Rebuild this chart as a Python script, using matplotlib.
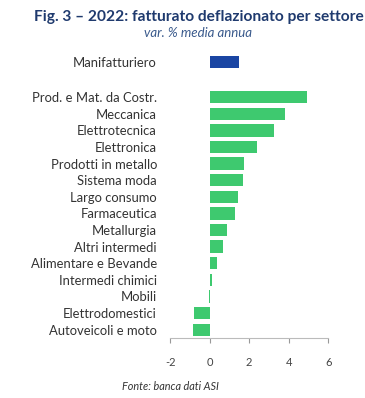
import matplotlib
matplotlib.use('Agg')
import matplotlib.pyplot as plt

# data
categories = ['Manifatturiero', 'Prod. e Mat. da Costr.', 'Meccanica',
              'Elettrotecnica', 'Elettronica', 'Prodotti in metallo',
              'Sistema moda', 'Largo consumo', 'Farmaceutica', 'Metallurgia',
              'Altri intermedi', 'Alimentare e Bevande', 'Intermedi chimici',
              'Mobili', 'Elettrodomestici', 'Autoveicoli e moto']
values = [1.5, 4.95, 3.8, 3.25, 2.4, 1.75, 1.7, 1.45, 1.3, 0.9,
          0.7, 0.35, 0.12, -0.03, -0.78, -0.86]
xticks = [-2, 0, 2, 4, 6]

plt.rcParams['font.family'] = ['Lato', 'DejaVu Sans']

green = '#3ec96f'
blue = '#1a45a3'

ypos = [0] + [2.1 + i for i in range(len(categories) - 1)]
colors = [blue] + [green] * (len(categories) - 1)

fig = plt.figure(figsize=(3.65, 3.98), dpi=100)
ax = fig.add_axes([0.466, 0.1508, 0.433, 0.7136])

ax.barh(ypos, values, height=0.74, color=colors)

ax.set_xlim(-2, 6)
ax.set_ylim(16.6, -0.5)
ax.set_xticks(xticks)
ax.set_xticklabels([str(t) for t in xticks])
ax.set_yticks(ypos)
ax.set_yticklabels(categories)

for s in ['top', 'right', 'left']:
    ax.spines[s].set_visible(False)
ax.spines['bottom'].set_color('#bbbbbb')
ax.tick_params(axis='y', length=0, pad=9.5, labelsize=9.4, labelcolor='#333333')
ax.tick_params(axis='x', length=3.5, color='#999999', pad=10,
               labelsize=8, labelcolor='#444444')

fig.text(0.545, 0.957, 'Fig. 3 \u2013 2022: fatturato deflazionato per settore',
         ha='center', va='center', fontsize=11.2, fontweight='bold', color='#1f3a6e')
fig.text(0.543, 0.917, 'var. % media annua', ha='center', va='center',
         fontsize=9.5, style='italic', color='#3a5a8c')
fig.text(0.466, 0.028, 'Fonte: banca dati ASI', ha='center', va='center',
         fontsize=7.8, style='italic', color='#333333')

fig.savefig('out.png', dpi=100)
